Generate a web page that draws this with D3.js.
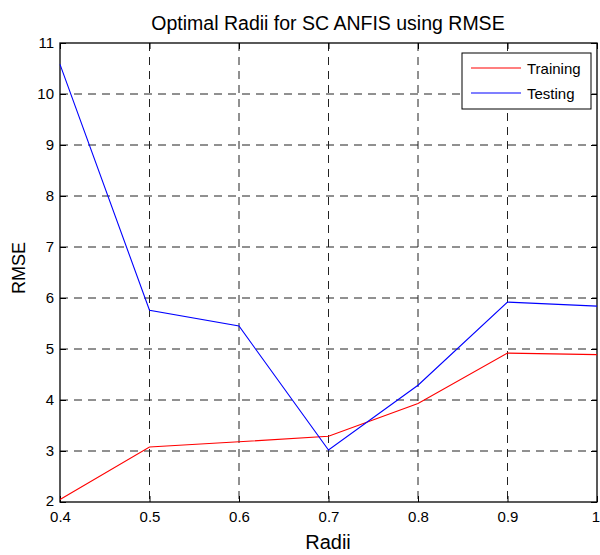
<!DOCTYPE html>
<html><head><meta charset="utf-8">
<script src="https://cdn.jsdelivr.net/npm/d3@7"></script>
<style>body{margin:0;background:#fff;}svg{display:block;font-family:"Liberation Sans",Arial,sans-serif;}</style>
</head><body><svg id="c" width="600" height="555"></svg>
<script>
const radii = [0.4, 0.5, 0.6, 0.7, 0.8, 0.9, 1.0];
const training = [2.05, 3.08, 3.18, 3.29, 3.93, 4.92, 4.89];
const testing = [10.58, 5.76, 5.45, 3.02, 4.29, 5.92, 5.84];
const xTicks = [0.4, 0.5, 0.6, 0.7, 0.8, 0.9, 1];
const yTicks = [2, 3, 4, 5, 6, 7, 8, 9, 10, 11];
const seriesNames = ["Training", "Testing"];
const seriesColors = ["#ff0000", "#0000ff"];

const svg = d3.select("#c");
const L = 60, R = 597, T = 43, B = 502;
const x = d3.scaleLinear().domain([0.4, 1]).range([L, R]);
const y = d3.scaleLinear().domain([2, 11]).range([B, T]);

// grid
const g = svg.append("g");
g.selectAll(".vg").data(xTicks.slice(1, -1)).enter().append("line")
  .attr("x1", d => x(d)).attr("x2", d => x(d)).attr("y1", T).attr("y2", B)
  .attr("stroke", "#222").attr("stroke-width", 1).attr("stroke-dasharray", "8,6");
g.selectAll(".hg").data(yTicks.slice(1, -1)).enter().append("line")
  .attr("y1", d => y(d)).attr("y2", d => y(d)).attr("x1", L).attr("x2", R)
  .attr("stroke", "#222").attr("stroke-width", 1).attr("stroke-dasharray", "8,6");

// axes
const xAx = d3.axisBottom(x).tickValues(xTicks).tickSize(-6).tickPadding(9).tickFormat(d3.format("~g"));
const yAx = d3.axisLeft(y).tickValues(yTicks).tickSize(-6).tickPadding(6);
const xa = svg.append("g").attr("transform", `translate(0,${B})`).call(xAx);
const ya = svg.append("g").attr("transform", `translate(${L},0)`).call(yAx);
const xt = svg.append("g").attr("transform", `translate(0,${T})`).call(d3.axisTop(x).tickValues(xTicks).tickSize(-6).tickFormat(""));
const yr = svg.append("g").attr("transform", `translate(${R},0)`).call(d3.axisRight(y).tickValues(yTicks).tickSize(-6).tickFormat(""));
[xa, ya, xt, yr].forEach(a => {
  a.select(".domain").remove();
  a.selectAll("line").attr("stroke", "#000");
  a.selectAll("text").attr("fill", "#000").style("font-size", "15px").style("font-family", '"Liberation Sans",Arial,sans-serif');
});
// keep the last x label inside the picture, the first y label clear of "0.4"
xa.selectAll(".tick text").filter(d => d === 1).attr("dx", "-1.5");
ya.selectAll(".tick text").filter(d => d === 2).attr("dy", "0.2em");
svg.append("rect").attr("x", L).attr("y", T).attr("width", R - L).attr("height", B - T)
  .attr("fill", "none").attr("stroke", "#000").attr("stroke-width", 1.3);

// lines
const line = d3.line().x((d, i) => x(radii[i])).y(d => y(d));
[training, testing].forEach((s, k) => {
  svg.append("path").datum(s).attr("d", line).attr("fill", "none")
    .attr("stroke", seriesColors[k]).attr("stroke-width", 1.1);
});

// legend
const lg = svg.append("g");
lg.append("rect").attr("x", 462).attr("y", 53).attr("width", 129).attr("height", 56)
  .attr("fill", "#fff").attr("stroke", "#000").attr("stroke-width", 1);
seriesNames.forEach((n, i) => {
  const yy = 68 + i * 25;
  lg.append("line").attr("x1", 471).attr("x2", 521).attr("y1", yy).attr("y2", yy)
    .attr("stroke", seriesColors[i]).attr("stroke-width", 1.1);
  lg.append("text").attr("x", 527).attr("y", yy + 6).text(n).style("font-size", "15px").attr("fill", "#000");
});

// titles
svg.append("text").attr("x", 328).attr("y", 30).attr("text-anchor", "middle")
  .style("font-size", "19.5px").text("Optimal Radii for SC ANFIS using RMSE");
svg.append("text").attr("x", 328).attr("y", 549).attr("text-anchor", "middle")
  .style("font-size", "20px").text("Radii");
svg.append("text").attr("transform", `translate(25,268) rotate(-90)`).attr("text-anchor", "middle")
  .style("font-size", "18px").text("RMSE");
</script></body></html>
